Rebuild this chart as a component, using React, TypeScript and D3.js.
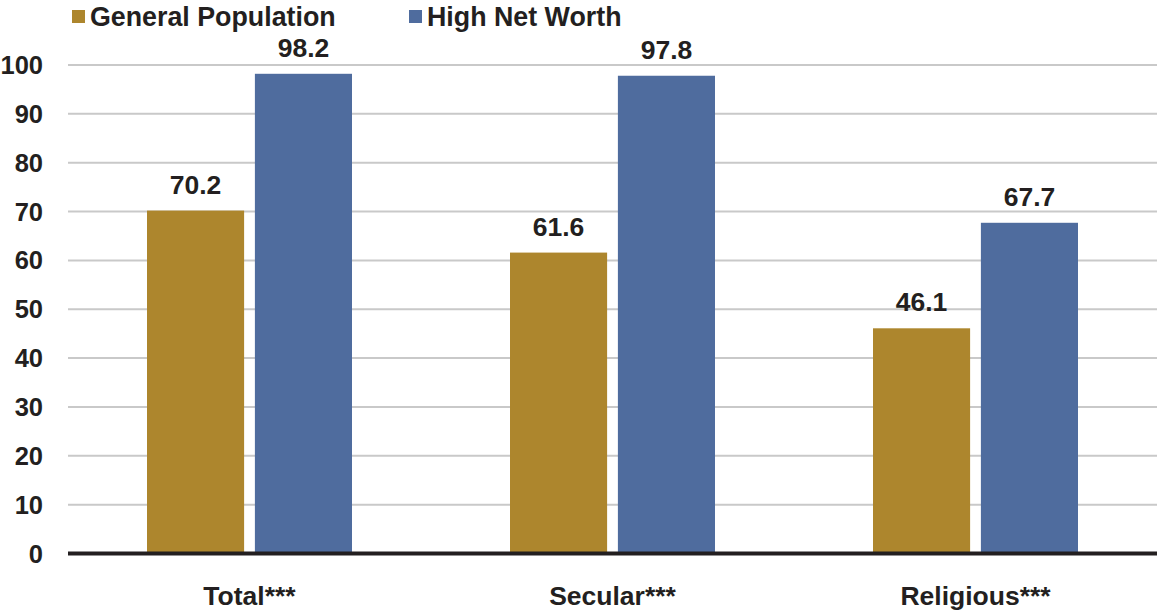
import React from "react";
import * as d3 from "d3";

const categories = ["Total***", "Secular***", "Religious***"];
const seriesNames = ["General Population", "High Net Worth"];
const generalPopulation = [70.2, 61.6, 46.1];
const highNetWorth = [98.2, 97.8, 67.7];
const yTicks = [0, 10, 20, 30, 40, 50, 60, 70, 80, 90, 100];
const colors = ["#AD862D", "#4F6C9E"];

const W = 1159;
const H = 610;
const FONT = "'Liberation Sans', Arial, sans-serif";

export default function App() {
  const left = 68;
  const right = 1157;
  const y = d3.scaleLinear().domain([0, 100]).range([553.5, 65]);
  const x0 = d3.scaleBand<string>().domain(categories).range([left, right]).paddingInner(0).paddingOuter(0);
  const groupW = 205;
  const x1 = d3
    .scaleBand<string>()
    .domain(seriesNames)
    .range([0, groupW])
    .paddingInner(0.1)
    .paddingOuter(0);
  const series = [generalPopulation, highNetWorth];

  return (
    <svg width={W} height={H} style={{ position: "absolute", left: 0, top: 0 }} fontFamily={FONT}>
      {yTicks.map((t) => (
        <g key={t}>
          {t > 0 && (
            <line x1={left} x2={right} y1={y(t)} y2={y(t)} stroke="#C9C9C9" strokeWidth={2} />
          )}
          <text x={43} y={y(t) + 9} textAnchor="end" fontSize={25.5} fontWeight="bold" fill="#231F20">
            {t}
          </text>
        </g>
      ))}
      {categories.map((c, i) => {
        const gx = (x0(c) as number) + (x0.bandwidth() - groupW) / 2;
        return (
          <g key={c}>
            {seriesNames.map((s, j) => {
              const v = series[j][i];
              const bx = gx + (x1(s) as number);
              const bw = x1.bandwidth();
              return (
                <g key={s}>
                  <rect x={bx} y={y(v)} width={bw} height={y(0) - y(v)} fill={colors[j]} />
                  <text
                    x={bx + bw / 2}
                    y={y(v) - 17}
                    textAnchor="middle"
                    fontSize={26.5}
                    fontWeight="bold"
                    fill="#231F20"
                  >
                    {v.toFixed(1)}
                  </text>
                </g>
              );
            })}
            <text
              x={(x0(c) as number) + x0.bandwidth() / 2}
              y={605}
              textAnchor="middle"
              fontSize={26.5}
              fontWeight="bold"
              fill="#231F20"
            >
              {c}
            </text>
          </g>
        );
      })}
      <line x1={left} x2={right} y1={y(0)} y2={y(0)} stroke="#231F20" strokeWidth={4} />
      {seriesNames.map((s, j) => {
        const lx = j === 0 ? 72 : 409;
        return (
          <g key={s}>
            <rect x={lx} y={10} width={13} height={13} fill={colors[j]} />
            <text x={lx + 18} y={26} fontSize={26.8} fontWeight="bold" fill="#231F20">
              {s}
            </text>
          </g>
        );
      })}
    </svg>
  );
}
